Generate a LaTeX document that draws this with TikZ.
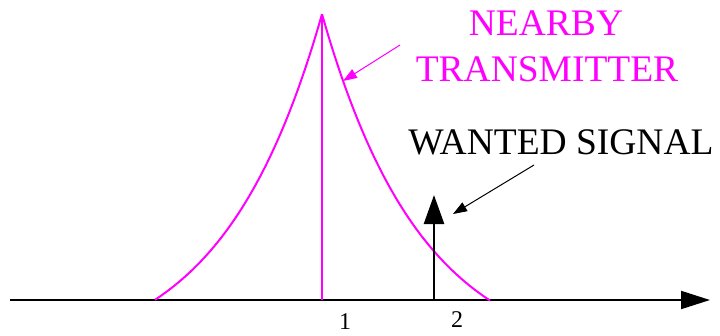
\documentclass[tikz,border=0pt]{standalone}
\usepackage{fontspec}
\setmainfont{Liberation Serif}
\usetikzlibrary{arrows.meta}
\definecolor{mag}{RGB}{255,0,255}
\tikzset{
  curve/.style={draw=mag,line width=2pt},
  bigtxt/.style={font=\fontsize{37.5}{44}\selectfont,inner sep=0pt,anchor=base},
  numtxt/.style={font=\fontsize{24}{28}\selectfont,inner sep=0pt,anchor=base},
  labarrow/.style={line width=1pt,-{Triangle[length=14pt,width=10pt]}},
}
\begin{document}
\begin{tikzpicture}[x=1pt,y=-1pt]
\useasboundingbox (0,0) rectangle (720,335);
% axis
\coordinate (a0) at (10,300);
\coordinate (a1) at (710,300);
\draw[line width=2pt,-{Triangle[length=29pt,width=18pt]}] (a0) -- (a1);
% spectrum of nearby transmitter
\coordinate (peak) at (322,14);
\coordinate (pbase) at (322,300);
\draw[curve] plot[domain=167:0,samples=90] ({322-\x},{300-352*(exp(-0.01*\x)-0.188)});
\draw[curve] plot[domain=0:168,samples=90] ({322+\x},{300-352*(exp(-0.01*\x)-0.188)});
\draw[curve] (peak) -- (pbase);
% wanted signal
\coordinate (wbase) at (434,300);
\coordinate (wtop) at (434,195);
\draw[line width=2.5pt,-{Triangle[length=29pt,width=20pt]}] (wbase) -- (wtop);
% labels
\node[bigtxt,text=mag] (nearby) at (546,35) {NEARBY};
\node[bigtxt,text=mag] (transm) at (547,81) {TRANSMITTER};
\node[bigtxt] (wanted) at (561,154) {WANTED SIGNAL};
\node[numtxt] (one) at (345,329) {1};
\node[numtxt] (two) at (457,327) {2};
% label arrows
\coordinate (n0) at (400,45);
\coordinate (n1) at (343,81);
\draw[labarrow,draw=mag,fill=mag] (n0) -- (n1);
\coordinate (w0) at (534,165);
\coordinate (w1) at (453,214);
\draw[labarrow] (w0) -- (w1);
\end{tikzpicture}
\end{document}
